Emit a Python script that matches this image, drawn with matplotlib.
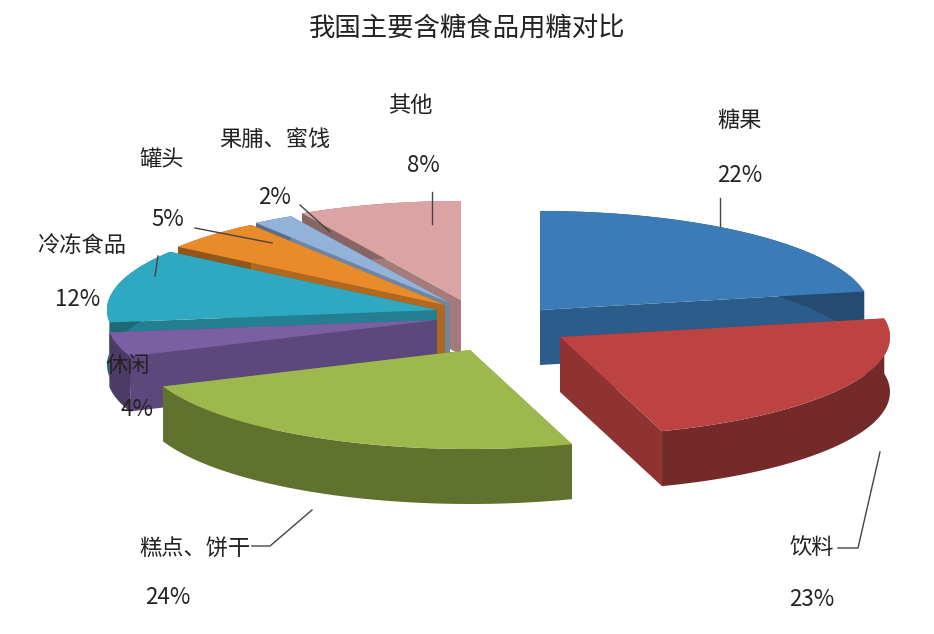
import numpy as np
import matplotlib.pyplot as plt
from matplotlib.patches import Polygon
from matplotlib.colors import to_rgb

plt.rcParams['font.family'] = ['Noto Sans CJK SC', 'DejaVu Sans']

labels = ['糖果', '饮料', '糕点、饼干', '休闲', '冷冻食品', '罐头', '果脯、蜜饯', '其他']
values = [22, 23, 24, 4, 12, 5, 2, 8]
colors = ['#3a7bb8', '#bd4343', '#9db84c', '#7a60a3', '#2fa9c1', '#e98b2b', '#92b2da', '#dca3a3']
# label text positions (pixels) and leader lines
label_pos = [(740, 120), (812, 548), (195, 548), (128, 365), (82, 245), (162, 160), (275, 140), (410, 105)]
pct_pos = [(740, 175), (812, 600), (168, 598), (137, 410), (78, 300), (168, 220), (275, 198), (423, 165)]
leaders = [[(720, 198), (720, 226)], [(838, 548), (858, 548), (880, 452)], [(252, 546), (270, 546), (312, 510)],
           None, [(158, 256), (155, 276)], [(195, 228), (272, 243)], [(300, 205), (330, 232)], [(432, 192), (432, 224)]]
offsets = [(85, -5), (105, 22), (15, 35), (-18, 5), (-18, -5), (-10, -10), (-5, -12), (6, -15)]

cx, cy, R, K, H = 455, 315, 330, 0.3, 55

fig = plt.figure(figsize=(9.34, 6.34), dpi=100)
ax = fig.add_axes([0, 0, 1, 1])
ax.set_xlim(0, 934)
ax.set_ylim(634, 0)
ax.axis('off')

fracs = np.array(values) / sum(values)
ends = 90 - 360 * np.cumsum(fracs)
starts = np.concatenate([[90], ends[:-1]])

order = sorted(range(len(values)),
               key=lambda i: np.sin(np.radians((starts[i] + ends[i]) / 2)), reverse=True)


def pt(ox, oy, t, h=0):
    return (ox + R * np.cos(np.radians(t)), oy - K * R * np.sin(np.radians(t)) + h)


for i in order:
    ox, oy = cx + offsets[i][0], cy + offsets[i][1]
    c = np.array(to_rgb(colors[i]))
    dark = c * 0.62
    mid = c * 0.75
    th = np.linspace(starts[i], ends[i], 60)
    top = [pt(ox, oy, t) for t in th]
    bot = [pt(ox, oy, t, H) for t in th]
    for t in (starts[i], ends[i]):
        a, b = pt(ox, oy, t), pt(ox, oy, t, H)
        ax.add_patch(Polygon([(ox, oy), a, b, (ox, oy + H)], closed=True, fc=mid, ec='none'))
    ax.add_patch(Polygon(top + bot[::-1], closed=True, fc=dark, ec='none'))
    ax.add_patch(Polygon([(ox, oy)] + top, closed=True, fc=c, ec='none'))

for i in range(len(values)):
    ax.text(*label_pos[i], labels[i], fontsize=16, ha='center', va='center', color='#222222')
    ax.text(*pct_pos[i], f'{values[i]}%', fontsize=16, ha='center', va='center', color='#222222')
    if leaders[i]:
        xs, ys = zip(*leaders[i])
        ax.plot(xs, ys, color='#444444', lw=1)

ax.text(467, 28, '我国主要含糖食品用糖对比', fontsize=19, ha='center', va='center', color='#222222')
fig.savefig('out.png', dpi=100)
